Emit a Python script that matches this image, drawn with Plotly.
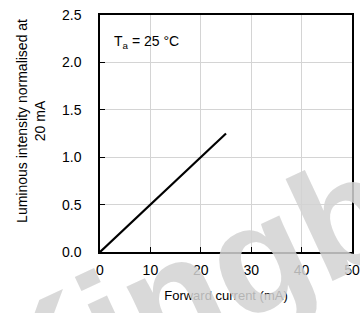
import plotly.graph_objects as go

forward_current = [0, 25]
luminous_intensity = [0.0, 1.25]

x_ticks = [0, 10, 20, 30, 40, 50]
y_ticks = [0.0, 0.5, 1.0, 1.5, 2.0, 2.5]

x_title = "Forward current (mA)"
y_title = "Luminous intensity normalised at<br>20 mA"
condition_text = "T<sub>a</sub> = 25 °C"
watermark_text = "Kingbright"

FONT = "Liberation Sans, Arial, sans-serif"

fig = go.Figure()
fig.add_trace(go.Scatter(
    x=forward_current, y=luminous_intensity, mode="lines",
    line=dict(color="black", width=2.2), showlegend=False, hoverinfo="skip"))

axis_common = dict(
    showgrid=True, gridcolor="#d4d4d4", gridwidth=1,
    showline=True, linecolor="black", linewidth=1.5, mirror=True,
    ticks="inside", ticklen=5, tickcolor="black", tickwidth=1,
    zeroline=False, tickfont=dict(family=FONT, size=14, color="black"),
    ticklabeloverflow="allow",
)

fig.update_xaxes(range=[0, 50], tickvals=x_ticks, ticktext=[str(v) for v in x_ticks],
                 ticklabelstandoff=4,
                 title=dict(text=x_title, font=dict(family=FONT, size=13, color="black"), standoff=14),
                 **axis_common)
fig.update_yaxes(range=[0, 2.5], tickvals=y_ticks, ticktext=[f"{v:.1f}" for v in y_ticks],
                 ticklabelstandoff=14,
                 **axis_common)

# y-axis title (two centred lines, rotated)
fig.add_annotation(x=-0.274, y=0.553, xref="paper", yref="paper", text=y_title,
                   showarrow=False, textangle=-90, xanchor="center", yanchor="middle",
                   align="center", font=dict(family=FONT, size=14, color="black"))

fig.add_annotation(x=2.4, y=2.215, xref="x", yref="y", text=condition_text,
                   showarrow=False, xanchor="left", yanchor="middle",
                   font=dict(family=FONT, size=14, color="black"))

fig.add_annotation(x=0.968, y=0.148, xref="paper", yref="paper", text="<b>" + watermark_text + "</b>",
                   showarrow=False, textangle=-25, xanchor="center", yanchor="middle",
                   font=dict(family=FONT, size=155, color="rgba(210,210,210,0.85)"))

fig.update_layout(
    width=360, height=313,
    margin=dict(l=100, r=8, t=15, b=61, autoexpand=False),
    plot_bgcolor="white", paper_bgcolor="white",
    font=dict(family=FONT),
)

fig.write_html("out.html", config={"displayModeBar": False},
               post_script="document.body.style.margin='0';")
